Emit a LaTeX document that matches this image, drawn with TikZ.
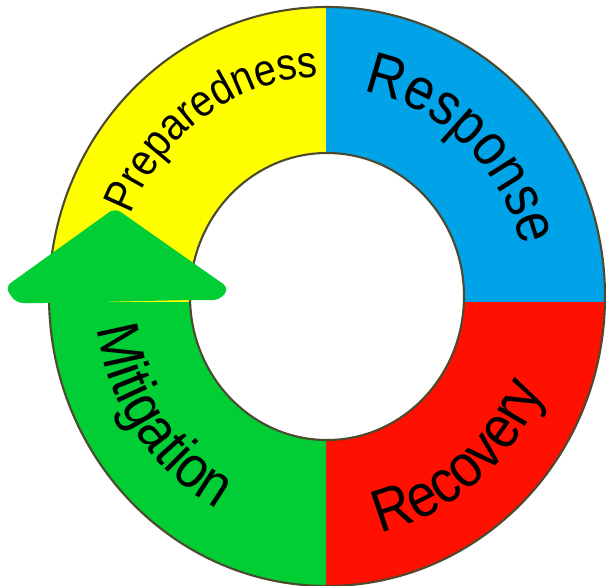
\documentclass[tikz,border=0pt]{standalone}
\usepackage{fontspec}
\newfontfamily\labelfont[FakeStretch=0.88]{Liberation Sans}
\usetikzlibrary{decorations.text}

\definecolor{prepYellow}{RGB}{255,255,0}
\definecolor{respBlue}{RGB}{0,162,232}
\definecolor{recRed}{RGB}{255,16,0}
\definecolor{mitGreen}{RGB}{0,206,52}

\tikzset{
	ringedge/.style={draw=black!60!olive, line width=0.6pt},
	arclabel/.style={decorate, decoration={text along path, text align=center, text={#1}}}
}

\begin{document}
\begin{tikzpicture}
	\useasboundingbox (0,0) rectangle (6.06,5.85);
	\clip (0,0) rectangle (6.06,5.85);
	\coordinate (c) at (3.27,2.885);

%	\draw [very thin,gray] (0,0) grid [step=0.5] (6.06,5.85);

	% the four quarters of the ring
	\foreach \xa/\ya/\xb/\yb/\col in {0/2.83/3.26/6/prepYellow, 3.26/2.83/7/6/respBlue, 3.26/-1/7/2.83/recRed, 0/-1/3.26/2.83/mitGreen} {
		\begin{scope}
			\clip (\xa,\ya) rectangle (\xb,\yb);
			\fill [\col, even odd rule] (c) ellipse [x radius=2.78, y radius=2.895] (c) ellipse [x radius=1.37, y radius=1.435];
		\end{scope}
	}
	\draw [ringedge] (c) ellipse [x radius=2.78, y radius=2.895];
	\draw [ringedge] (c) ellipse [x radius=1.37, y radius=1.435];

	% head of the mitigation arrow
	\fill [mitGreen, rounded corners=0.07cm] (0.50,2.82) -- (0.16,2.82) -- (0.05,2.98) -- (1.15,3.77) -- (2.29,2.97) -- (2.20,2.85) -- (1.90,2.85) -- cycle;

	\path [arclabel={|\labelfont\fontsize{12.8}{15}\selectfont|Preparedness}] (c) ++(170:2.11 and 2.20) arc [start angle=170, end angle=80, x radius=2.11, y radius=2.20];
	\path [arclabel={|\labelfont\fontsize{16.8}{20}\selectfont|Response}] (c) ++(92:2.00 and 2.08) arc [start angle=92, end angle=2, x radius=2.00, y radius=2.08];
	\path [arclabel={|\labelfont\fontsize{17.2}{20}\selectfont|Recovery}] (c) ++(265:2.34 and 2.43) arc [start angle=265, end angle=355, x radius=2.34, y radius=2.43];
	\path [arclabel={|\labelfont\fontsize{17}{20}\selectfont|Mitigation}] (c) ++(170:2.32 and 2.41) arc [start angle=170, end angle=260, x radius=2.32, y radius=2.41];
\end{tikzpicture}
\end{document}
